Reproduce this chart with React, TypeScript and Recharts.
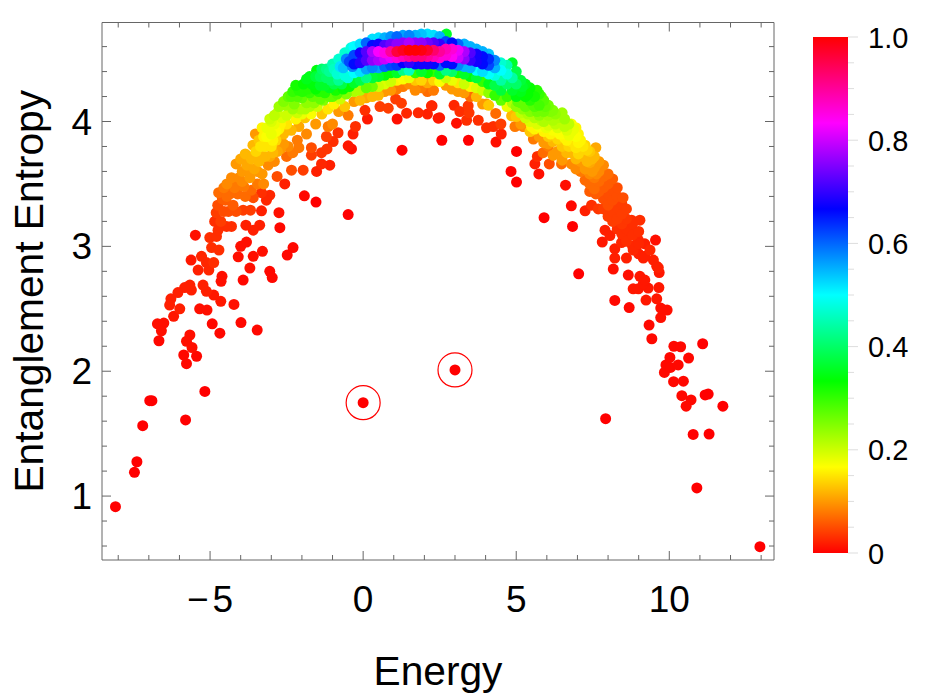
import React from "react";
import { BarChart, Bar, ScatterChart, Scatter, XAxis, YAxis, ReferenceDot, Label } from "recharts";

type P = [number, number, number];

const lowerLeft: P[] = [
[-8.09,.915,0],[-7.47,1.19,0],[-7.39,1.275,0],[-7.2,1.564,0],[-6.97,1.764,0],[-6.9,1.764,0],[-5.8,1.61,0],[-5.17,1.838,0],
[-6.72,2.38,.01],[-6.51,2.386,.01],[-6.59,2.324,.01],[-6.67,2.244,.005],[-5.66,2.29,.01],[-5.77,2.24,.01],[-5.59,2.19,.01],[-5.86,2.13,.005],[-5.44,2.12,.005],[-5.77,2.06,.005],
[-4.93,2.38,.005],[-4.68,2.305,.005],[-3.99,2.39,.005],[-3.46,2.33,.005],[-4.22,2.535,.01],[-4.65,2.56,.015],[-4.88,2.61,.015],[-5.12,2.64,.02],[-5.23,2.69,.02],[-5.61,2.65,.02],[-5.66,2.69,.02],[-5.83,2.67,.02],[-6.05,2.63,.02],[-6.28,2.58,.02],[-6.32,2.53,.02],[-5.99,2.5,.02],[-6.19,2.44,.015],[-5.34,2.5,.01],[-5.1,2.49,.01],
];
const lowerLeftArc: P[] = [
[-5.48,3.09,.01],[-5.62,2.89,.015],[-5.39,2.81,.02],[-5.28,2.92,.025],[-4.95,2.99,.03],[-4.71,2.97,.03],[-4.88,2.87,.03],[-5.12,2.87,.025],[-5.04,2.81,.025],[-5.01,3.07,.03],[-4.79,3.08,.03],
[-4.61,2.76,.01],[-4.64,2.72,.01],[-3.92,2.73,.005],[-3.7,2.826,.01],[-4.0,3.0,.01],[-3.81,3.034,.01],[-4.08,2.916,.01],[-3.59,2.92,.01],[-3.29,2.96,.01],[-2.29,2.99,.005],[-2.48,2.93,.005],[-3.05,2.8,.005],[-2.97,2.75,.005],[-2.75,3.27,.01],[-2.72,3.15,.005],
[-3.38,3.17,.02],[-3.59,3.13,.02],[-3.83,3.17,.02],[-4.3,3.16,.03],[-4.46,3.16,.03],[-4.79,3.21,.03],[-4.74,3.13,.03],[-3.92,3.29,.04],[-3.68,3.29,.04],[-3.32,3.285,.02],[-3.59,3.39,.05],[-3.32,3.43,.03],[-3.05,3.41,.025],[-3.16,3.37,.025],
[-0.49,3.255,0],[-1.54,3.355,0],[-1.92,3.405,.005],[-2.56,3.5,.02],[-2.81,3.56,.05],
];
const innerLeft: P[] = [
[-2.34,3.61,.05],[-1.96,3.61,.04],[-1.52,3.6,.02],[-1.09,3.65,.02],[-1.36,3.66,.025],[-1.69,3.73,.04],[-1.69,3.79,.05],[-1.36,3.75,.035],[-1.18,3.78,.035],[-.49,3.805,.015],[-.38,3.78,.01],[-.98,3.84,.03],[-1.2,3.88,.04],[-.82,3.91,.03],[-.33,3.9,.02],[-.25,3.96,.03],[-1.14,3.96,.08],[-.49,4.05,.08],[.06,4.09,.03],[.14,4.02,.015],
[.55,4.12,.04],[.82,4.107,.04],[1.06,4.18,.04],[1.25,4.147,.04],[1.42,4.067,.025],[1.11,4.02,.01],[1.8,4.07,.025],[2.1,4.06,.02],[2.23,4.126,.025],[2.45,4.027,.015],[1.27,3.77,0],
];
const innerRight: P[] = [
[2.57,3.85,0],[3.44,3.85,0],[3.05,3.987,.01],[2.5,4.03,.015],[3.76,4.01,.03],[3.38,4.01,.03],[3.46,4.07,.035],[3.43,4.126,.035],[2.97,4.13,.025],[3.16,4.08,.03],[2.25,4.126,.02],
[4.34,3.835,.01],[4.51,3.9,.02],[4.03,3.95,.03],[4.25,3.96,.03],[4.5,3.98,.04],[4.33,4.065,.07],[4.03,4.14,.1],[4.85,4.045,.12],[4.96,3.96,.08],[5.23,3.96,.08],[5.56,3.86,.08],[6.05,3.82,.1],[5.88,3.75,.07],[6.21,3.73,.1],
[5.01,3.76,0],[4.83,3.6,0],[5.01,3.515,0],[5.74,3.58,.01],[5.61,3.66,.02],[5.69,3.72,.03],[6.08,3.66,.05],[6.48,3.66,.07],[6.61,3.49,.01],[5.91,3.23,0],[6.84,3.16,0],[6.8,3.325,.005],[7.25,3.285,.02],[7.46,3.33,.03],[7.68,3.3,.035],
];
const lowerRight: P[] = [
[3,2.01,0],[0,1.748,0],[7.04,2.78,0],[7.92,1.62,0],[10.78,1.494,0],[11.3,1.497,0],[10.9,1.065,0],[12.96,.595,0],[11.75,1.72,0],[11.17,1.81,0],[11.27,1.817,0],[10.41,1.804,.005],[10.71,1.77,.005],[10.55,1.72,.005],[10.14,1.916,.005],[10.46,1.92,.005],[9.84,1.99,.005],[9.89,2.05,.005],[10.04,2.03,.005],[10.29,2.05,.005],[10.02,2.11,.005],[10.63,2.105,.005],[10.15,2.2,.005],[10.37,2.196,.005],[11.09,2.22,0],
[9.43,2.26,.005],[9.34,2.37,.005],[9.72,2.43,.01],[9.93,2.49,.01],[9.72,2.506,.01],[9.59,2.58,.015],[9.24,2.57,.015],[8.69,2.51,.005],[8.22,2.567,.005],[8.82,2.66,.015],[8.99,2.66,.015],[9.31,2.666,.015],[9.66,2.67,.015],[9.15,2.7,.015],
[8.17,2.818,.01],[8.66,2.77,.01],[9.04,2.76,.015],[9.2,2.73,.015],[9.67,2.79,.015],[9.59,2.84,.02],[9.55,3.05,.01],[7.9,3.13,.02],[8.06,3.087,.02],[7.81,3.035,.015],[8.22,2.98,.02],[8.22,2.906,.02],[8.44,3.03,.025],[8.6,2.906,.02],[8.82,2.97,.025],[8.99,3.05,.025],[8.77,3.21,.03],[9.04,3.21,.03],[8.71,3.12,.03],[8.5,3.07,.025],[9.15,2.906,.02],[9.37,2.97,.025],[9.48,2.89,.02],[9.64,2.83,.02],
];
const leftRim: P[] = [
[-4.85,3.2,.03],[-4.8,3.27,.04],[-4.75,3.33,.05],[-4.72,3.43,.07],[-4.55,3.47,.08],[-4.45,3.5,.09],[-4.3,3.55,.09],[-4.15,3.66,.1],[-4,3.7,.11],[-3.85,3.74,.12],[-3.6,3.81,.12],[-3.52,3.9,.1],
[-4.65,3.2,.04],[-4.55,3.28,.05],[-4.5,3.37,.06],[-4.35,3.42,.07],[-4.25,3.33,.06],[-4.2,3.47,.08],[-4.05,3.55,.09],[-4.1,3.42,.07],[-3.95,3.6,.1],[-3.8,3.65,.11],[-3.7,3.55,.1],[-3.9,3.48,.08],[-3.65,3.7,.12],[-3.5,3.76,.14],[-3.55,3.62,.11],[-3.4,3.68,.12],[-3.35,3.8,.15],[-3.3,3.58,.1],[-3.2,3.72,.12],[-3.25,3.88,.16],[-3.1,3.82,.15],[-3.15,3.95,.18],[-3,3.9,.18],[-3.05,4.02,.2],[-2.95,3.75,.12],[-2.85,3.85,.14],[-2.9,3.98,.18],[-2.8,4.07,.2],[-2.75,3.94,.16],[-2.7,3.78,.1],[-2.6,3.9,.12],[-2.65,4.03,.19],[-2.55,4.13,.23],[-2.5,3.98,.15],[-2.45,3.8,.09],[-2.35,3.93,.12],[-2.4,4.08,.2],[-2.35,4.2,.28],[-2.25,4.14,.25],[-2.2,4.02,.16],[-2.15,3.85,.08],[-2.1,3.96,.11],[-2.1,4.25,.31],[-2.05,4.1,.22],[-2,4.19,.27],[-1.95,4.3,.33],[-1.9,4.03,.13],[-1.85,3.9,.09],
[-2.5,3.72,.07],[-2.3,3.75,.08],[-2.1,3.79,.08],[-3.1,3.65,.09],[-2.9,3.68,.09],
];
const leftFill: P[] = [
[-3.3,3.95,.16],[-3.2,3.8,.15],[-3,3.8,.15],[-3.4,3.85,.13],[-3.15,3.88,.17],[-2.95,3.85,.16],[-2.85,3.92,.17],[-2.8,3.76,.11],[-2.6,3.82,.1],[-3.05,3.72,.11],[-3.3,3.72,.12],[-3.45,3.6,.1],[-3.6,3.72,.12],[-3.75,3.6,.1],[-3.95,3.52,.09],[-4.1,3.52,.08],[-4.3,3.45,.07],[-4.45,3.4,.07],[-4.6,3.38,.06],[-4.4,3.28,.05],[-4.15,3.28,.05],[-3.85,3.4,.07],[-3.65,3.45,.07],[-3.45,3.5,.08],[-3.25,3.5,.09],
[-3,4,.19],[-2.9,4.05,.21],[-2.75,4.12,.23],[-2.7,3.98,.16],[-2.6,4.16,.25],[-2.5,4.05,.2],[-2.45,4.2,.27],[-2.3,4.1,.23],[-2.3,4.24,.3],[-2.15,4.2,.28],[-2.15,4.07,.2],[-2.2,4.29,.32],[-2,4.06,.18],[-1.98,4.24,.31],[-1.9,4.1,.22],[-1.85,4.34,.35],[-1.75,4.12,.22],[-1.75,4.23,.3],[-1.68,4.3,.34],[-1.6,4.15,.24],[-1.55,4.36,.37],[-1.55,4.26,.33],[-1.4,4.18,.27],[-1.4,4.29,.36],[-1.35,4.42,.4],[-1.25,4.23,.31],[-1.2,4.35,.4],[-1.1,4.27,.35],[-1.1,4.4,.43],[-1,4.2,.27],[-.95,4.3,.38],[-.95,4.42,.46],[-.85,4.22,.28],[-.8,4.33,.43],[-.75,4.44,.52],[-.65,4.26,.33],[-.6,4.37,.48],[-.55,4.5,.58],[-.35,4.44,.58],[-.45,4.28,.33],
];
const leftShoulder: P[] = [
[-1.85,4.15,.24],[-1.8,4.26,.31],[-1.75,4.36,.35],[-1.7,4.06,.17],[-1.65,4.2,.27],[-1.6,4.3,.34],[-1.52,4.41,.34],[-1.55,3.98,.1],[-1.5,4.12,.2],[-1.45,4.24,.31],[-1.4,4.36,.39],[-1.35,4.06,.13],[-1.3,4.17,.25],[-1.25,4.29,.36],[-1.2,4.42,.42],[-1.15,4.1,.15],[-1.1,4.2,.27],[-1.05,4.33,.4],[-1,4.46,.45],[-1,3.98,.09],[-.95,4.14,.16],[-.9,4.25,.32],[-.85,4.38,.47],[-.8,4.5,.47],[-.8,4.08,.1],[-.75,4.18,.2],[-.7,4.3,.38],[-.65,4.43,.54],[-.6,4.55,.47],[-.6,4.12,.13],[-.55,4.22,.25],[-.5,4.35,.48],[-.45,4.48,.62],[-.4,4.59,.48],
];
const crownLeft: P[] = [
[-.3,4.16,.1],[-.3,4.24,.22],[-.3,4.31,.36],[-.3,4.39,.5],[-.3,4.46,.66],[-.3,4.53,.62],[-.3,4.6,.5],
[-.1,4.17,.12],[-.1,4.25,.22],[-.1,4.33,.38],[-.1,4.4,.52],[-.1,4.47,.69],[-.1,4.55,.68],[-.1,4.62,.52],
[.1,4.19,.11],[.1,4.27,.27],[.1,4.35,.42],[.1,4.42,.56],[.1,4.49,.72],[.1,4.56,.72],[.1,4.63,.6],
[.3,4.2,.12],[.3,4.28,.26],[.3,4.35,.37],[.3,4.43,.58],[.3,4.49,.76],[.3,4.56,.78],[.3,4.61,.66],[.3,4.66,.52],
[.5,4.21,.12],[.5,4.28,.2],[.5,4.36,.36],[.5,4.43,.56],[.5,4.49,.78],[.5,4.56,.83],[.5,4.62,.68],[.5,4.67,.52],
[.7,4.24,.1],[.7,4.3,.19],[.7,4.37,.34],[.7,4.44,.6],[.7,4.5,.8],[.7,4.55,.85],[.7,4.61,.72],[.7,4.67,.55],
[.9,4.25,.1],[.9,4.32,.2],[.9,4.39,.33],[.9,4.45,.62],[.9,4.51,.82],[.9,4.56,.9],[.9,4.62,.74],[.9,4.68,.57],
[1.1,4.26,.08],[1.1,4.33,.16],[1.1,4.39,.36],[1.1,4.45,.63],[1.1,4.51,.86],[1.1,4.56,.96],[1.1,4.62,.76],[1.1,4.68,.6],
[1.3,4.28,.08],[1.3,4.34,.17],[1.3,4.41,.42],[1.3,4.47,.67],[1.3,4.52,.88],[1.3,4.57,.98],[1.3,4.63,.76],[1.3,4.69,.56],
[1.5,4.3,.09],[1.5,4.35,.18],[1.5,4.41,.46],[1.5,4.47,.7],[1.5,4.52,.9],[1.5,4.57,1],[1.5,4.63,.78],[1.5,4.69,.58],
];
const crownRight: P[] = [
[1.7,4.25,.09],[1.7,4.33,.13],[1.7,4.39,.3],[1.7,4.46,.66],[1.7,4.52,.92],[1.7,4.57,1],[1.7,4.63,.76],[1.7,4.69,.55],
[1.9,4.27,.08],[1.9,4.33,.14],[1.9,4.4,.36],[1.9,4.46,.68],[1.9,4.52,.92],[1.9,4.57,.99],[1.9,4.63,.76],[1.9,4.7,.54],
[2.1,4.24,.07],[2.1,4.31,.11],[2.1,4.39,.33],[2.1,4.46,.68],[2.1,4.52,.9],[2.1,4.57,.97],[2.1,4.63,.74],[2.1,4.7,.52],
[2.3,4.25,.08],[2.3,4.33,.14],[2.3,4.4,.3],[2.3,4.46,.66],[2.3,4.52,.88],[2.3,4.57,.93],[2.3,4.63,.72],[2.3,4.69,.52],
[2.5,4.32,.17],[2.5,4.38,.36],[2.5,4.45,.6],[2.5,4.51,.86],[2.5,4.56,.9],[2.5,4.62,.7],[2.5,4.68,.55],
[2.7,4.29,.1],[2.7,4.35,.2],[2.7,4.41,.42],[2.7,4.47,.66],[2.7,4.53,.86],[2.7,4.58,.88],[2.7,4.64,.62],[2.72,4.7,.36],
[2.9,4.26,.1],[2.9,4.33,.18],[2.9,4.4,.4],[2.9,4.46,.66],[2.9,4.52,.84],[2.9,4.58,.86],[2.9,4.63,.66],
[3.1,4.24,.1],[3.1,4.31,.15],[3.1,4.39,.32],[3.1,4.45,.58],[3.1,4.51,.8],[3.1,4.57,.82],[3.1,4.62,.6],
[3.3,4.23,.1],[3.3,4.3,.2],[3.3,4.38,.36],[3.3,4.44,.55],[3.3,4.5,.76],[3.3,4.56,.78],[3.3,4.62,.55],
[3.5,4.2,.07],[3.5,4.28,.16],[3.5,4.36,.34],[3.5,4.43,.55],[3.5,4.49,.7],[3.5,4.55,.72],[3.5,4.6,.55],
[3.7,4.2,.12],[3.7,4.27,.19],[3.7,4.35,.37],[3.7,4.41,.5],[3.7,4.48,.68],[3.7,4.54,.68],[3.7,4.58,.55],
[3.9,4.14,.1],[3.9,4.25,.2],[3.9,4.32,.3],[3.9,4.4,.52],[3.9,4.46,.66],[3.9,4.52,.66],[3.9,4.56,.55],
[4.1,4.13,.13],[4.1,4.23,.24],[4.1,4.3,.35],[4.1,4.38,.5],[4.1,4.45,.62],[4.1,4.5,.64],[4.1,4.54,.54],
];
const rightShoulder: P[] = [
[4.3,4.21,.3],[4.3,4.29,.38],[4.3,4.37,.48],[4.3,4.43,.55],[4.3,4.49,.58],
[4.5,4.17,.27],[4.5,4.25,.37],[4.5,4.33,.44],[4.5,4.41,.5],[4.5,4.47,.47],
[4.7,4.12,.18],[4.7,4.2,.3],[4.7,4.3,.4],[4.7,4.38,.48],[4.7,4.45,.45],
[4.87,4.05,.12],[4.87,4.15,.22],[4.87,4.25,.36],[4.87,4.35,.44],[4.87,4.47,.36],
[5,4.04,.13],[5,4.12,.24],[5,4.2,.34],[5,4.3,.4],[5,4.4,.38],
[5.15,3.98,.1],[5.15,4.07,.21],[5.15,4.15,.27],[5.15,4.24,.35],[5.15,4.33,.37],
[5.3,3.96,.09],[5.3,4.03,.2],[5.3,4.12,.27],[5.3,4.2,.33],[5.3,4.3,.35],
[5.45,3.92,.13],[5.45,4,.19],[5.45,4.08,.25],[5.45,4.17,.31],[5.45,4.27,.33],
[5.6,3.94,.16],[5.6,4.03,.22],[5.6,4.12,.28],[5.6,4.2,.32],
[5.75,3.88,.1],[5.75,3.96,.17],[5.75,4.05,.24],[5.75,4.13,.29],[5.75,4.22,.3],
[5.9,3.83,.1],[5.9,3.92,.16],[5.9,4,.22],[5.9,4.08,.26],[5.9,4.17,.28],
];
const rightFill: P[] = [
[5.05,4.16,.27],[5.2,4.28,.36],[5.2,4.1,.24],[5.38,4.22,.33],[5.38,4.06,.22],[5.5,3.96,.16],[5.53,4.14,.28],[5.68,4.08,.26],[5.68,4.25,.31],[5.68,3.98,.19],[5.82,4.2,.28],[5.82,4.01,.21],[5.95,4.12,.27],[5.98,3.95,.18],[6.12,4.08,.25],[6.12,3.9,.16],[6.28,4.06,.24],[6.28,3.98,.21],[6.4,4,.21],[6.42,3.9,.17],[6.58,3.96,.21],[6.58,3.87,.16],[6.58,4.02,.23],[6.72,3.89,.18],[6.72,3.98,.21],[6.72,3.8,.14],[6.88,3.83,.15],[6.88,3.94,.18],[7.03,3.74,.14],[7.03,3.83,.16],[7.03,3.9,.16],[7.18,3.72,.12],[7.18,3.8,.15],[7.32,3.68,.12],[7.32,3.77,.14],[7.48,3.6,.1],[7.48,3.7,.12],[7.62,3.58,.09],[7.62,3.66,.1],[7.4,3.44,.06],[7.6,3.42,.06],
];
const rightArm: P[] = [
[6.05,3.8,.08],[6.05,3.88,.13],[6.05,3.97,.19],[6.05,4.05,.23],[6.05,4.13,.26],
[6.2,3.73,.09],[6.2,3.84,.12],[6.2,3.93,.17],[6.2,4.01,.22],[6.2,4.09,.25],
[6.35,3.76,.1],[6.35,3.86,.14],[6.35,3.95,.19],[6.35,4.03,.22],
[6.5,3.69,.1],[6.5,3.8,.13],[6.5,3.9,.17],[6.5,3.99,.2],[6.5,4.07,.23],
[6.65,3.75,.12],[6.65,3.85,.16],[6.65,3.93,.19],
[6.8,3.66,.09],[6.8,3.75,.12],[6.8,3.84,.15],[6.8,3.92,.18],[6.8,3.98,.17],
[6.95,3.62,.09],[6.95,3.7,.12],[6.95,3.79,.15],[6.95,3.88,.17],[6.95,3.95,.16],
[7.1,3.6,.08],[7.1,3.68,.1],[7.1,3.77,.13],[7.1,3.85,.16],
[7.25,3.53,.07],[7.25,3.62,.1],[7.25,3.72,.12],[7.25,3.81,.14],
[7.4,3.5,.07],[7.4,3.58,.09],[7.4,3.67,.11],[7.4,3.76,.13],
[7.55,3.46,.07],[7.55,3.55,.08],[7.55,3.63,.1],[7.55,3.72,.12],[7.6,3.79,.11],
[7.7,3.44,.06],[7.7,3.52,.07],[7.7,3.6,.09],[7.7,3.68,.1],
[7.85,3.3,.04],[7.85,3.38,.05],[7.85,3.47,.06],[7.85,3.56,.07],[7.85,3.65,.09],
[8,3.24,.04],[8,3.33,.05],[8,3.42,.05],[8,3.5,.06],[8,3.58,.07],
[8.15,3.2,.04],[8.15,3.28,.04],[8.15,3.37,.05],[8.15,3.46,.05],[8.15,3.54,.06],
[8.3,3.14,.03],[8.3,3.22,.04],[8.3,3.31,.04],[8.3,3.4,.05],[8.3,3.47,.05],
[8.45,3.1,.03],[8.45,3.18,.035],[8.45,3.26,.04],[8.45,3.34,.04],[8.49,3.39,.05],
[8.6,3.04,.03],[8.6,3.14,.03],[8.6,3.22,.035],[8.6,3.3,.04],
[8.8,3,.025],[8.8,3.09,.03],[8.8,3.18,.03],
[9,2.94,.02],[9,3.02,.025],[9,3.12,.03],
[9.2,2.92,.02],[9.2,3.02,.02],
];

const markedStates: [number, number][] = [[0, 1.748], [3, 2.01]];
const xTicks = [-8,-7,-6,-5,-4,-3,-2,-1,0,1,2,3,4,5,6,7,8,9,10,11,12,13];
const xLabels = [-5, 0, 5, 10];
const yTicks = [.6,.8,1,1.2,1.4,1.6,1.8,2,2.2,2.4,2.6,2.8,3,3.2,3.4,3.6,3.8,4,4.2,4.4,4.6];
const yLabels = [1, 2, 3, 4];
const barTicks = [0,.05,.1,.15,.2,.25,.3,.35,.4,.45,.5,.55,.6,.65,.7,.75,.8,.85,.9,.95,1];
const barLabels = [0, .2, .4, .6, .8, 1];
const barData = [{ name: "scale", top: 1 }];
const hueStops = [0, 1/6, 2/6, 3/6, 4/6, 5/6, 1];

const points = [...lowerLeft, ...lowerLeftArc, ...innerLeft, ...innerRight, ...lowerRight, ...leftRim, ...leftFill, ...leftShoulder, ...crownLeft, ...crownRight, ...rightShoulder, ...rightFill, ...rightArm]
  .map(([energy, entropy, weight]) => ({ energy, entropy, weight }))
  .sort((a, b) => a.weight - b.weight);

const hue = (w: number) => `hsl(${w * 360},100%,50%)`;
const FONT = '"Liberation Sans", Arial, sans-serif';
const FRAME = "#666666";
const near = (list: number[], v: number) => list.some((t) => Math.abs(t - v) < 1e-6);

const Dot = (p: any) => <circle cx={p.cx} cy={p.cy} r={5.5} fill={hue(p.payload?.weight ?? p.weight ?? 0)} />;

const XTick = (side: "bottom" | "top") => (p: any) => {
  const v = p.payload.value;
  const major = near(xLabels, v);
  const len = major ? 9 : 5;
  const dir = side === "bottom" ? -1 : 1;
  return (
    <g>
      <line x1={p.x} x2={p.x} y1={p.y} y2={p.y + dir * len} stroke={FRAME} strokeWidth={1} />
      {side === "bottom" && major && (
        <text x={p.x} y={p.y + 52} textAnchor="middle" fontFamily={FONT} fontSize={37} fill="#000">
          {v < 0 ? <><tspan>{"\u2212"}</tspan><tspan dx={4}>{-v}</tspan></> : v}
        </text>
      )}
    </g>
  );
};
const YTick = (side: "left" | "right") => (p: any) => {
  const major = near(yLabels, p.payload.value);
  const len = major ? 9 : 5;
  const dir = side === "left" ? 1 : -1;
  return (
    <g>
      <line x1={p.x} x2={p.x + dir * len} y1={p.y} y2={p.y} stroke={FRAME} strokeWidth={1} />
      {side === "left" && major && (
        <text x={p.x - 10} y={p.y + 13} textAnchor="end" fontFamily={FONT} fontSize={37} fill="#000">
          {p.payload.value}
        </text>
      )}
    </g>
  );
};
const BarTick = (p: any) => {
  const major = near(barLabels, p.payload.value);
  return (
    <g>
      <line x1={p.x} x2={p.x + (major ? 10 : 6)} y1={p.y} y2={p.y} stroke="#dddddd" strokeWidth={1} />
      {major && (
        <text x={p.x + 20} y={p.y + 10.5} fontFamily={FONT} fontSize={29} fill="#000">
          {p.payload.value === 0 ? "0" : p.payload.value.toFixed(1)}
        </text>
      )}
    </g>
  );
};

const xDomain: [number, number] = [-8.53, 13.42];
const yDomain: [number, number] = [0.488, 4.793];

export default function App() {
  return (
    <div style={{ position: "absolute", left: 0, top: 0, width: 926, height: 695, background: "#fff" }}>
      <div style={{ position: "absolute", left: 0, top: 0 }}>
        <ScatterChart width={926} height={695} margin={{ top: 21.5, right: 151, bottom: 0, left: 0 }}>
          <XAxis type="number" dataKey="energy" domain={xDomain} ticks={xTicks} interval={0} allowDataOverflow height={135} tickSize={0} tickMargin={0} tickLine={false} stroke={FRAME} tick={XTick("bottom")}>
            <Label value="Energy" position="insideBottom" offset={10} style={{ fontFamily: FONT, fontSize: 40.7, fill: "#000" }} />
          </XAxis>
          <XAxis xAxisId="top" orientation="top" type="number" dataKey="energy" domain={xDomain} ticks={xTicks} interval={0} allowDataOverflow height={1} tickSize={0} tickMargin={0} tickLine={false} stroke={FRAME} tick={XTick("top")} />
          <YAxis type="number" dataKey="entropy" domain={yDomain} ticks={yTicks} interval={0} allowDataOverflow width={102} tickSize={0} tickMargin={0} tickLine={false} stroke={FRAME} tick={YTick("left")}>
            <Label value="Entanglement Entropy" angle={-90} position="insideLeft" offset={0} style={{ fontFamily: FONT, fontSize: 40.7, fill: "#000", textAnchor: "middle" }} dx={29} />
          </YAxis>
          <YAxis yAxisId="right" orientation="right" type="number" dataKey="entropy" domain={yDomain} ticks={yTicks} interval={0} allowDataOverflow width={1} tickSize={0} tickMargin={0} tickLine={false} stroke={FRAME} tick={YTick("right")} />
          <Scatter data={points} isAnimationActive={false} shape={Dot} />
          {markedStates.map(([x, y]) => (
            <ReferenceDot key={x} x={x} y={y} r={17} fill="none" stroke="#ff0000" strokeWidth={1.2} ifOverflow="visible" />
          ))}
        </ScatterChart>
      </div>
      <div style={{ position: "absolute", left: 813, top: 0 }}>
        <BarChart width={113} height={695} data={barData} barCategoryGap={0} margin={{ top: 37, right: 77, bottom: 142, left: 0 }}>
          <defs>
            <linearGradient id="hueScale" x1="0" y1="1" x2="0" y2="0">
              {hueStops.map((s) => <stop key={s} offset={s} stopColor={hue(s)} />)}
            </linearGradient>
          </defs>
          <XAxis dataKey="name" hide />
          <YAxis orientation="right" type="number" domain={[0, 1]} ticks={barTicks} interval={0} width={1} tickSize={0} tickMargin={0} tickLine={false} axisLine={false} tick={BarTick} />
          <Bar dataKey="top" fill="url(#hueScale)" isAnimationActive={false} />
        </BarChart>
      </div>
    </div>
  );
}
